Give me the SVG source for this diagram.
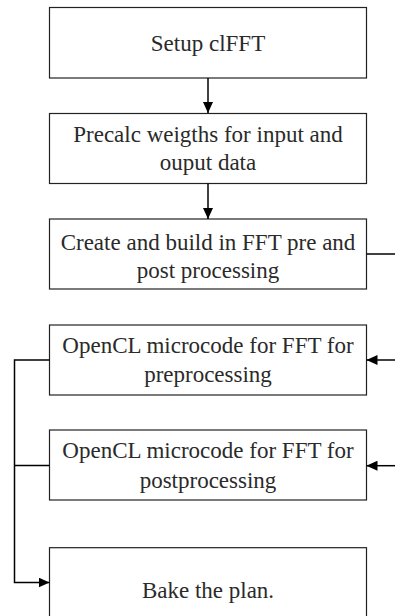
<svg xmlns="http://www.w3.org/2000/svg" width="395" height="616" viewBox="0 0 395 616">
<style>
.box{fill:#fff;stroke:#222;stroke-width:1.2}
.t{font-family:"Liberation Serif","Times New Roman",serif;font-size:23px;fill:#2a2a2a;text-anchor:middle}
.c{fill:none;stroke:#000;stroke-width:1.5}
</style>
<defs>
<marker id="ah" viewBox="0 0 11 10" refX="11" refY="5" markerWidth="11" markerHeight="10" markerUnits="userSpaceOnUse" orient="auto">
<path d="M0,0 L11,5 L0,10 Z" fill="#000"/>
</marker>
</defs>
<rect width="395" height="616" fill="#fff"/>
<g id="n1"><rect class="box" x="49.5" y="7.5" width="317" height="70.5"/><text class="t" x="208" y="50.7">Setup clFFT</text></g>
<g id="n2"><rect class="box" x="49.5" y="113.5" width="317" height="70"/><text class="t" x="208" y="141.7">Precalc weigths for input and</text><text class="t" x="208" y="170">ouput data</text></g>
<g id="n3"><rect class="box" x="49.5" y="219" width="317" height="70"/><text class="t" x="208" y="250">Create and build in FFT pre and</text><text class="t" x="208" y="277.5">post processing</text></g>
<g id="n4"><rect class="box" x="49.5" y="325" width="317" height="70"/><text class="t" x="208" y="353.3">OpenCL microcode for FFT for</text><text class="t" x="208" y="381.7">preprocessing</text></g>
<g id="n5"><rect class="box" x="49.5" y="430" width="317" height="70"/><text class="t" x="208" y="458.3">OpenCL microcode for FFT for</text><text class="t" x="208" y="487.5">postprocessing</text></g>
<g id="n6"><rect class="box" x="49.5" y="547.7" width="317" height="80"/><text class="t" x="208" y="598.3">Bake the plan.</text></g>
<g id="connectors">
<line class="c" x1="208" y1="78" x2="208" y2="113" marker-end="url(#ah)"/>
<line class="c" x1="208" y1="183.5" x2="208" y2="219" marker-end="url(#ah)"/>
<line class="c" x1="366.5" y1="254" x2="396" y2="254"/>
<line class="c" x1="396" y1="360" x2="366.5" y2="360" marker-end="url(#ah)"/>
<line class="c" x1="396" y1="465.7" x2="366.5" y2="465.7" marker-end="url(#ah)"/>
<polyline class="c" points="49.5,360 14.5,360 14.5,582.5 49.5,582.5" marker-end="url(#ah)"/>
<line class="c" x1="14.5" y1="465.5" x2="49.5" y2="465.5"/>
</g>
</svg>
